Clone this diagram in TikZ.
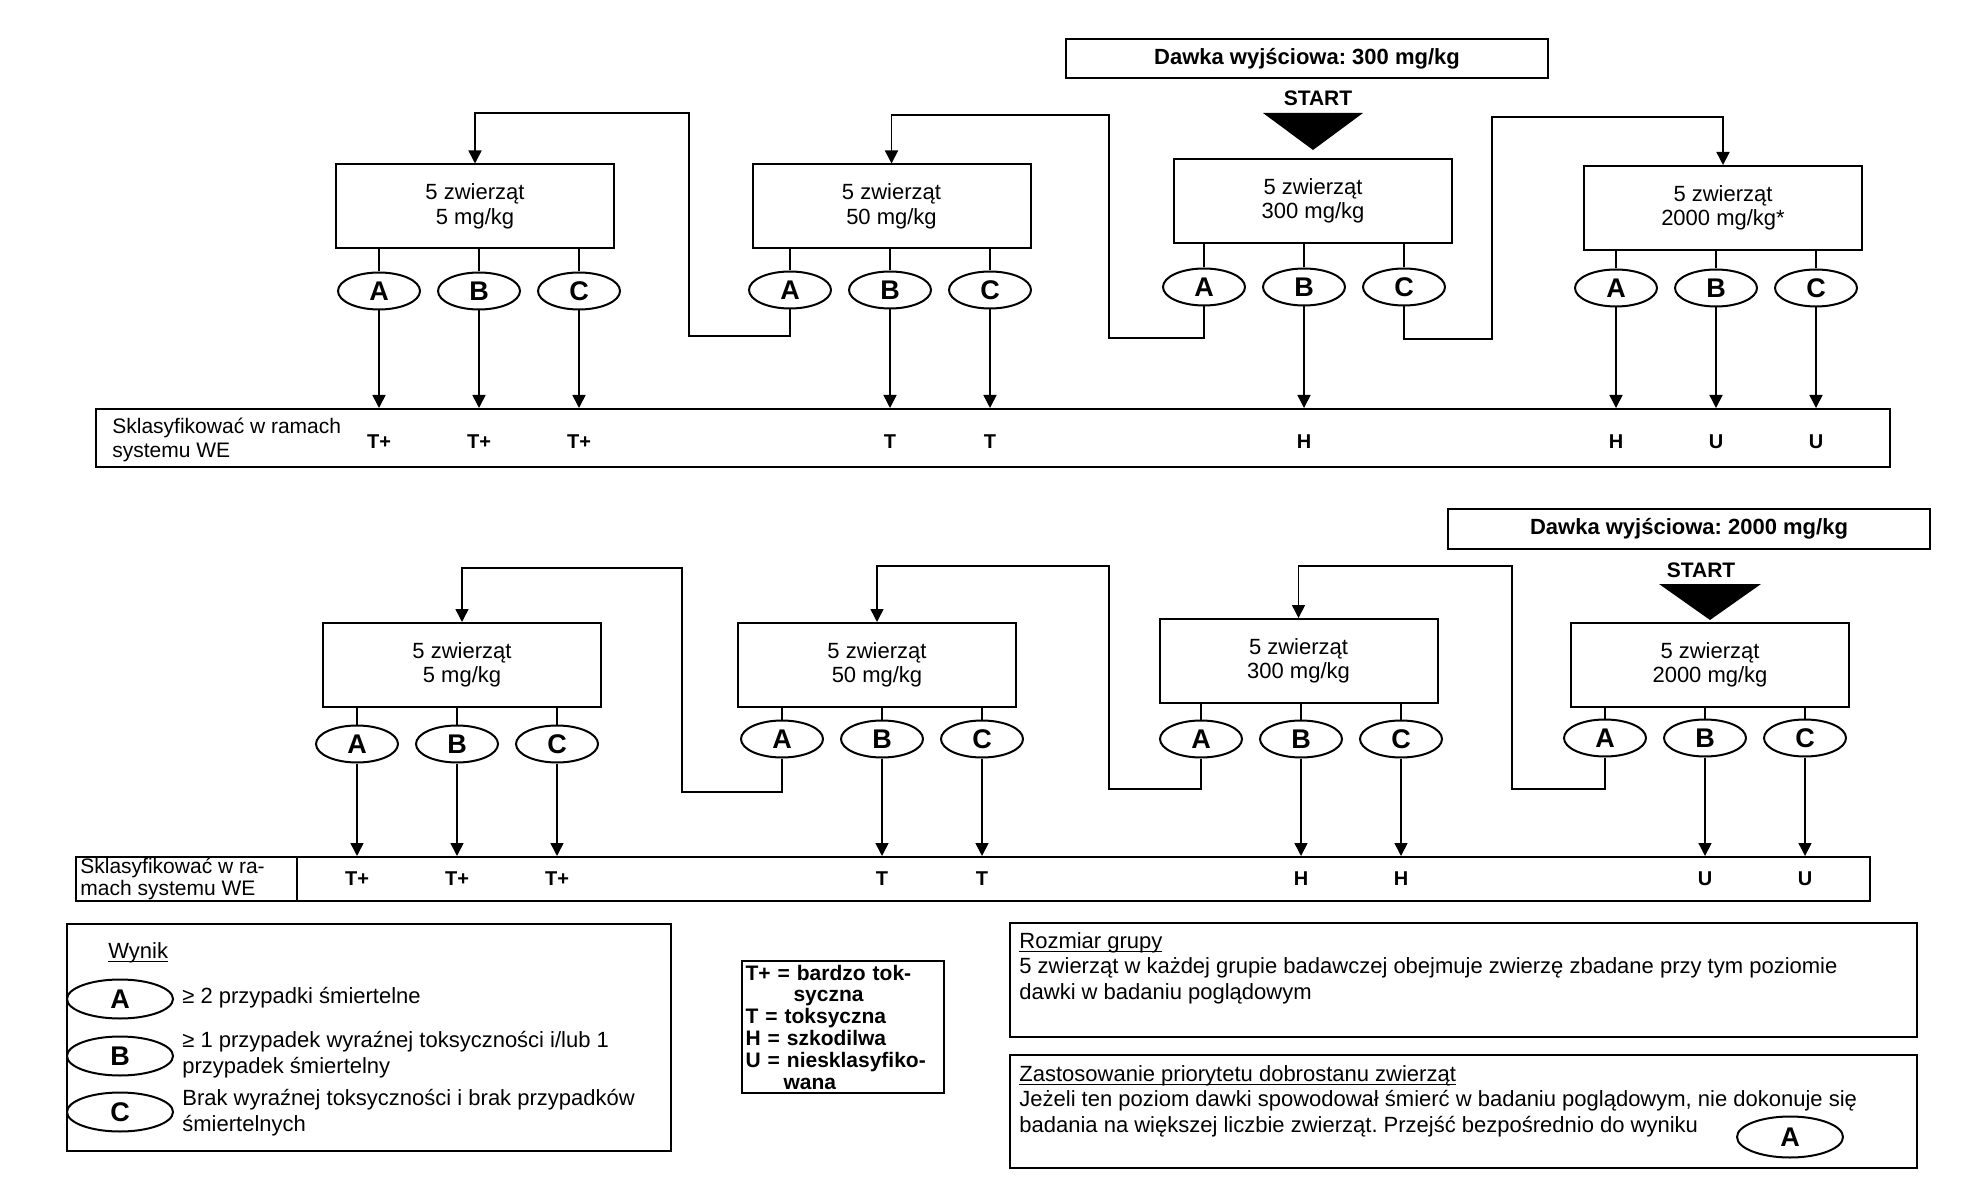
\documentclass[tikz,border=0pt]{standalone}
\usepackage{fontspec}
\setmainfont{Liberation Sans}
\usetikzlibrary{shapes.geometric,arrows.meta}
\frenchspacing
\newcommand{\ulined}[1]{\setbox0\hbox{#1}\rlap{\rule[-1.6pt]{\wd0}{0.5pt}}\box0}
\tikzset{
    group-box/.style = {draw, line width=1pt, rectangle, minimum width=139pt, minimum height=42pt, align=center, font=\fontsize{11}{12.2}\selectfont},
    dose-box/.style = {draw, line width=1pt, rectangle, minimum width=241pt, minimum height=19.5pt, font=\fontsize{11}{13}\selectfont\bfseries},
    start-text/.style = {inner sep=0pt, font=\fontsize{10.5}{12}\selectfont\bfseries},
    result-oval/.style = {draw, line width=1pt, ellipse, minimum width=41pt, minimum height=18.5pt, inner sep=0pt, font=\fontsize{13.5}{14}\selectfont\bfseries},
    key-oval/.style = {result-oval, minimum width=53pt, minimum height=19.5pt},
    class-bar/.style = {draw, line width=1pt, rectangle, minimum width=897pt},
    bar-text/.style = {anchor=west, align=left, inner sep=0pt},
    class-label/.style = {inner sep=0pt, font=\fontsize{10}{12}\selectfont\bfseries},
    link/.style = {line width=0.8pt},
    out-arrow/.style = {link, -{Triangle[length=6.5pt,width=6.5pt]}},
    frame-box/.style = {draw, line width=1pt, rectangle},
    note-text/.style = {anchor=west, align=left, inner sep=0pt, font=\fontsize{11}{12.7}\selectfont},
}

\begin{document}
\begin{tikzpicture}[x=0.5pt, y=-0.5pt]
\useasboundingbox (0,0) rectangle (1969,1197);

% starting dose 300 mg/kg
\node[dose-box] (dose-a) at (1307,58.5) {Dawka wyjściowa: 300 mg/kg};
\node[start-text] (start-a) at (1318,98) {START};
\node[group-box] (a1) at (475,206.5) {5 zwierząt\\5 mg/kg};
\node[group-box] (a2) at (891.5,206.5) {5 zwierząt\\50 mg/kg};
\node[group-box] (a3) at (1313,201) {5 zwierząt\\300 mg/kg};
\node[group-box] (a4) at (1723,208) {5 zwierząt\\2000 mg/kg*};
\fill ([yshift=4pt]a3.north) -- ++(-25pt,18.5pt) -- ++(50pt,0pt) -- cycle;
\node[class-bar, minimum height=29pt] (bar-a) at (993,438) {};
\node[bar-text, font=\fontsize{10.5}{12}\selectfont] (bar-a-text) at (112,440) {Sklasyfikować w ramach\\systemu WE};

% starting dose 2000 mg/kg
\node[dose-box] (dose-b) at (1689,529) {Dawka wyjściowa: 2000 mg/kg};
\node[start-text] (start-b) at (1701,570) {START};
\node[group-box] (b1) at (462,665) {5 zwierząt\\5 mg/kg};
\node[group-box] (b2) at (877,665) {5 zwierząt\\50 mg/kg};
\node[group-box] (b3) at (1298.5,661) {5 zwierząt\\300 mg/kg};
\node[group-box] (b4) at (1710,665) {5 zwierząt\\2000 mg/kg};
\fill ([yshift=1pt]b4.north) -- ++(-25.5pt,18pt) -- ++(51pt,0pt) -- cycle;
\node[class-bar, minimum height=22pt] (bar-b) at (972.5,879) {};
\draw[line width=1pt] (bar-b.north -| 297,0) -- (bar-b.south -| 297,0);
\node[bar-text, font=\fontsize{10.5}{11}\selectfont] (bar-b-text) at (80,879) {Sklasyfikować w ra-\\mach systemu WE};

% outcomes A, B, C under each group
\foreach \grp/\ax/\oy in {a1/379/291, a2/790/290, a3/1204/287, a4/1616/288, b1/357/744, b2/782/739, b3/1201/739, b4/1605/738} {
    \node[result-oval] (\grp A) at (\ax,\oy) {A};
    \node[result-oval] (\grp B) at (\ax+100,\oy) {B};
    \node[result-oval] (\grp C) at (\ax+200,\oy) {C};
    \foreach \res in {A,B,C}
        \draw[link] (\grp\res.north) -- (\grp\res.north |- \grp.south);
}

% classification
\foreach \res/\cls in {a1A/T+, a1B/T+, a1C/T+, a2B/T, a2C/T, a3B/H, a4A/H, a4B/U, a4C/U} {
    \draw[out-arrow] (\res.south) -- (\res.south |- bar-a.north);
    \node[class-label, yshift=-2pt] (cls-\res) at (\res |- bar-a.center) {\cls};
}
\foreach \res/\cls in {b1A/T+, b1B/T+, b1C/T+, b2B/T, b2C/T, b3B/H, b3C/H, b4B/U, b4C/U} {
    \draw[out-arrow] (\res.south) -- (\res.south |- bar-b.north);
    \node[class-label] (cls-\res) at (\res |- bar-b.center) {\cls};
}

% next dose level
\draw[out-arrow] (a2A.south) |- (689,336) |- (a1.north |- 0,113) -- (a1.north);
\draw[out-arrow] (a3A.south) |- (1109,338) |- (a2.north |- 0,115) -- (a2.north);
\draw[out-arrow] (a3C.south) |- (1492,339) |- (a4.north |- 0,117) -- (a4.north);
\draw[out-arrow] (b2A.south) |- (682,792) |- (b1.north |- 0,568) -- (b1.north);
\draw[out-arrow] (b3A.south) |- (1109,789) |- (b2.north |- 0,566) -- (b2.north);
\draw[out-arrow] (b4A.south) |- (1512,789) |- (b3.north |- 0,566) -- (b3.north);

% legends
\node[frame-box, minimum width=302pt, minimum height=113.5pt] (result-key) at (369,1037.5) {};
\node[note-text] (result-title) at (108,953) {\ulined{Wynik}};
\node[key-oval] (key-A) at (120,999) {A};
\node[key-oval] (key-B) at (120,1056) {B};
\node[key-oval] (key-C) at (120,1112) {C};
\node[note-text] (key-A-text) at (182,998) {≥ 2 przypadki śmiertelne};
\node[note-text] (key-B-text) at (182,1054.5) {≥ 1 przypadek wyraźnej toksyczności i/lub 1\\przypadek śmiertelny};
\node[note-text] (key-C-text) at (182,1112.5) {Brak wyraźnej toksyczności i brak przypadków\\śmiertelnych};

\node[frame-box, align=left, text width=97pt, inner sep=2pt, font=\fontsize{10.5}{10.9}\selectfont\bfseries] (class-key) at (842.5,1027) {T+ = bardzo tok-\\\hspace*{24pt}syczna\\T = toksyczna\\H = szkodilwa\\U = niesklasyfiko-\\\hspace*{19pt}wana};

\node[frame-box, minimum width=453.5pt, minimum height=57pt] (group-size) at (1463.5,980) {};
\node[note-text, anchor=north west] (group-size-text) at (1019,932) {\ulined{Rozmiar grupy}\\5 zwierząt w każdej grupie badawczej obejmuje zwierzę zbadane przy tym poziomie\\dawki w badaniu poglądowym};

\node[frame-box, minimum width=453.5pt, minimum height=56.5pt] (welfare) at (1463.5,1111.5) {};
\node[note-text, anchor=north west] (welfare-text) at (1019,1065) {\ulined{Zastosowanie priorytetu dobrostanu zwierząt}\\Jeżeli ten poziom dawki spowodował śmierć w badaniu poglądowym, nie dokonuje się\\badania na większej liczbie zwierząt. Przejść bezpośrednio do wyniku};
\node[key-oval, minimum height=20.5pt] (welfare-A) at (1790,1137) {A};
\end{tikzpicture}
\end{document}
